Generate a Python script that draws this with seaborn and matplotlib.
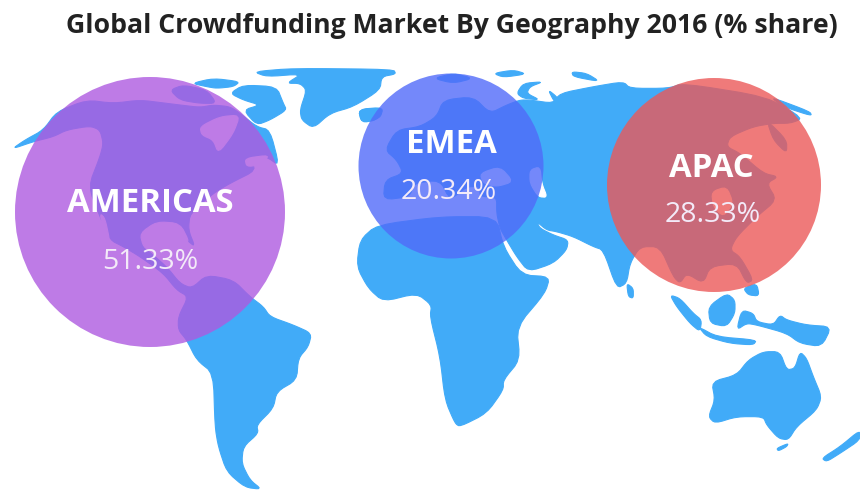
import matplotlib
matplotlib.use("Agg")
import matplotlib.pyplot as plt
from matplotlib.patches import Polygon
import pandas as pd
import seaborn as sns

# ---- chart data ----
regions = ["AMERICAS", "EMEA", "APAC"]
shares = [51.33, 20.34, 28.33]
share_labels = ["51.33%", "20.34%", "28.33%"]
title = "Global Crowdfunding Market By Geography 2016 (% share)"

# bubble placement on the map canvas
bubble_x = [150, 451, 714]
bubble_y = [212, 166, 185]
bubble_r = [135, 92.5, 107]
bubble_colors = ["#AE5AE0", "#516BF9", "#EB5959"]
label_y = [203, 144, 168]
label_x = [150, 451, 711]
value_y = [262, 192, 215]
value_x = [150, 449, 713]

LAND = "#41ABF8"

# base map outlines, traced in crop coordinates
west_land = [
    [(36,297),(75,270),(130,240),(170,185),(260,150),(340,160),(420,150),(500,160),(540,165),(600,172),(640,165),
     (690,170),(720,190),(770,230),(810,240),(838,348),(800,320),(740,320),(770,360),(690,400),(640,430),(570,490),
     (565,540),(585,590),(560,570),(540,540),(470,515),(420,550),(430,590),(500,650),(540,700),(575,715),(620,675),
     (700,690),(750,740),(790,770),(810,800),(880,825),(935,850),(925,890),(895,925),(890,990),(830,1025),(820,1075),
     (770,1125),(775,1150),(730,1190),(725,1240),(750,1290),(785,1318),(735,1312),(680,1265),(655,1190),(645,1130),
     (640,970),(590,930),(560,870),(535,840),(535,800),(565,740),(530,720),(490,670),(420,620),(370,590),(330,570),
     (300,500),(265,410),(300,320),(310,280),(300,240),(270,228),(200,240),(160,260),(100,275)],
    [(510,120),(550,105),(620,120),(650,160),(600,160),(540,150)],
    [(575,100),(640,85),(720,95),(700,110),(650,115),(620,110)],
    [(690,130),(730,105),(830,110),(850,160),(860,180),(810,210),(770,225),(730,180),(780,165),(730,150)],
    [(760,65),(880,55),(1180,58),(1188,72),(1145,80),(1140,120),(1060,170),(990,190),(940,235),(905,210),(900,180),
     (920,120),(900,100),(860,100),(905,72),(800,80)],
    [(1075,178),(1150,175),(1130,210),(1085,218)],
]
west_water = [
    [(600,230),(660,200),(720,195),(700,250),(655,310),(640,270),(605,255)],
    [(735,325),(810,315),(780,345),(740,350)],
    [(300,490),(315,505),(330,575),(310,545)],
    [(420,550),(470,515),(540,520),(570,580),(530,575),(500,600),(460,610),(430,590)],
]
east_land = [
    [(130,450),(135,390),(190,370),(170,330),(135,300),(170,240),(240,230),(290,200),(310,150),(400,140),(450,190),
     (500,165),(540,150),(570,150),(640,160),(660,130),(760,110),(850,95),(870,115),(985,115),(1030,100),(1280,140),
     (1390,205),(1350,220),(1300,220),(1240,230),(1170,260),(1160,290),(1200,310),(1270,370),(1315,380),(1280,400),
     (1310,450),(1250,500),(1190,560),(1170,600),(1200,620),(1240,690),(1220,700),(1190,640),(1110,650),(1090,700),
     (1040,670),(1020,700),(1000,680),(960,590),(900,590),(870,640),(860,700),(830,715),(790,600),(760,590),(700,560),
     (650,545),(620,540),(590,515),(600,535),(640,555),(685,570),(680,600),(640,640),(565,665),(530,620),(500,570),
     (480,535),(470,490),(470,440),(420,440),(420,410),(380,410),(330,450),(300,390),(220,400),(210,440)],
    [(50,650),(60,570),(110,525),(300,500),(470,500),(490,590),(545,675),(630,680),(615,730),(530,830),(540,930),
     (490,990),(490,1020),(440,1090),(360,1130),(345,1120),(315,1050),(300,920),(270,800),(275,765),(230,730),(130,755),(85,715)],
    [(55,178),(130,172),(120,205),(65,218)],
    [(280,85),(340,70),(400,85),(340,100)],
    [(460,70),(520,60),(560,72),(490,82)],
    [(530,130),(550,100),(610,95),(570,110),(560,130),(600,150),(550,145)],
    [(625,120),(650,140),(675,175),(660,175),(640,150)],
    [(695,65),(740,70),(780,95),(700,80)],
    [(1290,140),(1410,185),(1415,198),(1330,170)],
    [(1280,210),(1340,270),(1340,310),(1300,270)],
    [(860,700),(880,715),(880,745),(865,740)],
    [(990,735),(1020,745),(1060,790),(1085,810),(1080,845),(1050,820),(1010,770)],
    [(1075,830),(1130,860),(1250,870),(1240,885),(1170,880),(1100,860)],
    [(1105,770),(1160,730),(1185,750),(1185,790),(1160,830),(1110,820)],
    [(1210,715),(1250,700),(1258,738),(1225,735)],
    [(1190,840),(1205,780),(1240,790),(1250,815),(1300,825),(1320,795),(1340,810),(1400,825),(1475,830),(1445,890),
     (1380,880),(1340,850),(1250,825),(1220,820)],
    [(1115,995),(1190,975),(1225,930),(1270,905),(1320,905),(1340,960),(1365,955),(1380,905),(1400,925),(1420,980),
     (1445,1040),(1430,1080),(1370,1130),(1345,1170),(1315,1165),(1280,1125),(1270,1100),(1190,1100),(1125,1120),
     (1105,1100),(1125,1050)],
    [(1310,1195),(1345,1180),(1340,1190),(1315,1203)],
    [(1445,1225),(1500,1190),(1560,1140),(1560,1170),(1500,1210),(1460,1235)],
]
east_water = [
    [(420,370),(480,350),(520,395),(470,410),(430,400)],
    [(570,360),(600,350),(605,400),(622,442),(595,440),(570,400)],
    [(1115,425),(1160,410),(1180,460),(1150,500),(1120,470)],
]

df = pd.DataFrame({"region": regions, "share": shares, "x": bubble_x, "y": bubble_y})

sns.set_theme(style="white")
plt.rcParams["font.family"] = ["Open Sans", "DejaVu Sans"]

fig = plt.figure(figsize=(8.6, 4.9), dpi=100)
ax = fig.add_axes([0, 0, 1, 1])
ax.set_xlim(0, 860)
ax.set_ylim(490, 0)
ax.axis("off")


def west(pts):
    return [(x / 3, 50 + y / 3) for x, y in pts]


def east(pts):
    return [(340 + x / 3, 50 + y / 3) for x, y in pts]


def soften(pts, rounds=2):
    """Corner-cutting so the traced outlines read as smooth coasts."""
    for _ in range(rounds):
        out = []
        for i, (x0, y0) in enumerate(pts):
            x1, y1 = pts[(i + 1) % len(pts)]
            out.append((0.8 * x0 + 0.2 * x1, 0.8 * y0 + 0.2 * y1))
            out.append((0.2 * x0 + 0.8 * x1, 0.2 * y0 + 0.8 * y1))
        pts = out
    return pts


for conv, shapes, col, z in [(west, west_land, LAND, 1), (east, east_land, LAND, 1),
                             (west, west_water, "white", 2), (east, east_water, "white", 2)]:
    for pts in shapes:
        ax.add_patch(Polygon(conv(soften(pts)), closed=True, fc=col, ec=col, lw=0.8, joinstyle="round", zorder=z))

sizes = {r: (2 * rad * 72 / 100) ** 2 for r, rad in zip(regions, bubble_r)}
palette = dict(zip(regions, bubble_colors))
sns.scatterplot(data=df, x="x", y="y", hue="region", palette=palette, size="region", sizes=sizes,
                alpha=0.8, linewidth=0, legend=False, ax=ax, zorder=3, clip_on=False)
ax.set_xlim(0, 860)
ax.set_ylim(490, 0)
ax.set_xlabel("")
ax.set_ylabel("")

for name, val, lx, ly, vx, vy in zip(regions, share_labels, label_x, label_y, value_x, value_y):
    ax.text(lx, ly, name, color="white", fontsize=23.7, fontweight="bold", ha="center", va="center", zorder=4)
    ax.text(vx, vy, val, color="#F3EAF8", fontsize=20.5, ha="center", va="center", zorder=4)

ax.text(452, 26, title, color="#222222", fontsize=19.2, fontweight="bold", ha="center", va="center", zorder=4)

fig.savefig("out.png", dpi=100, facecolor="white")
